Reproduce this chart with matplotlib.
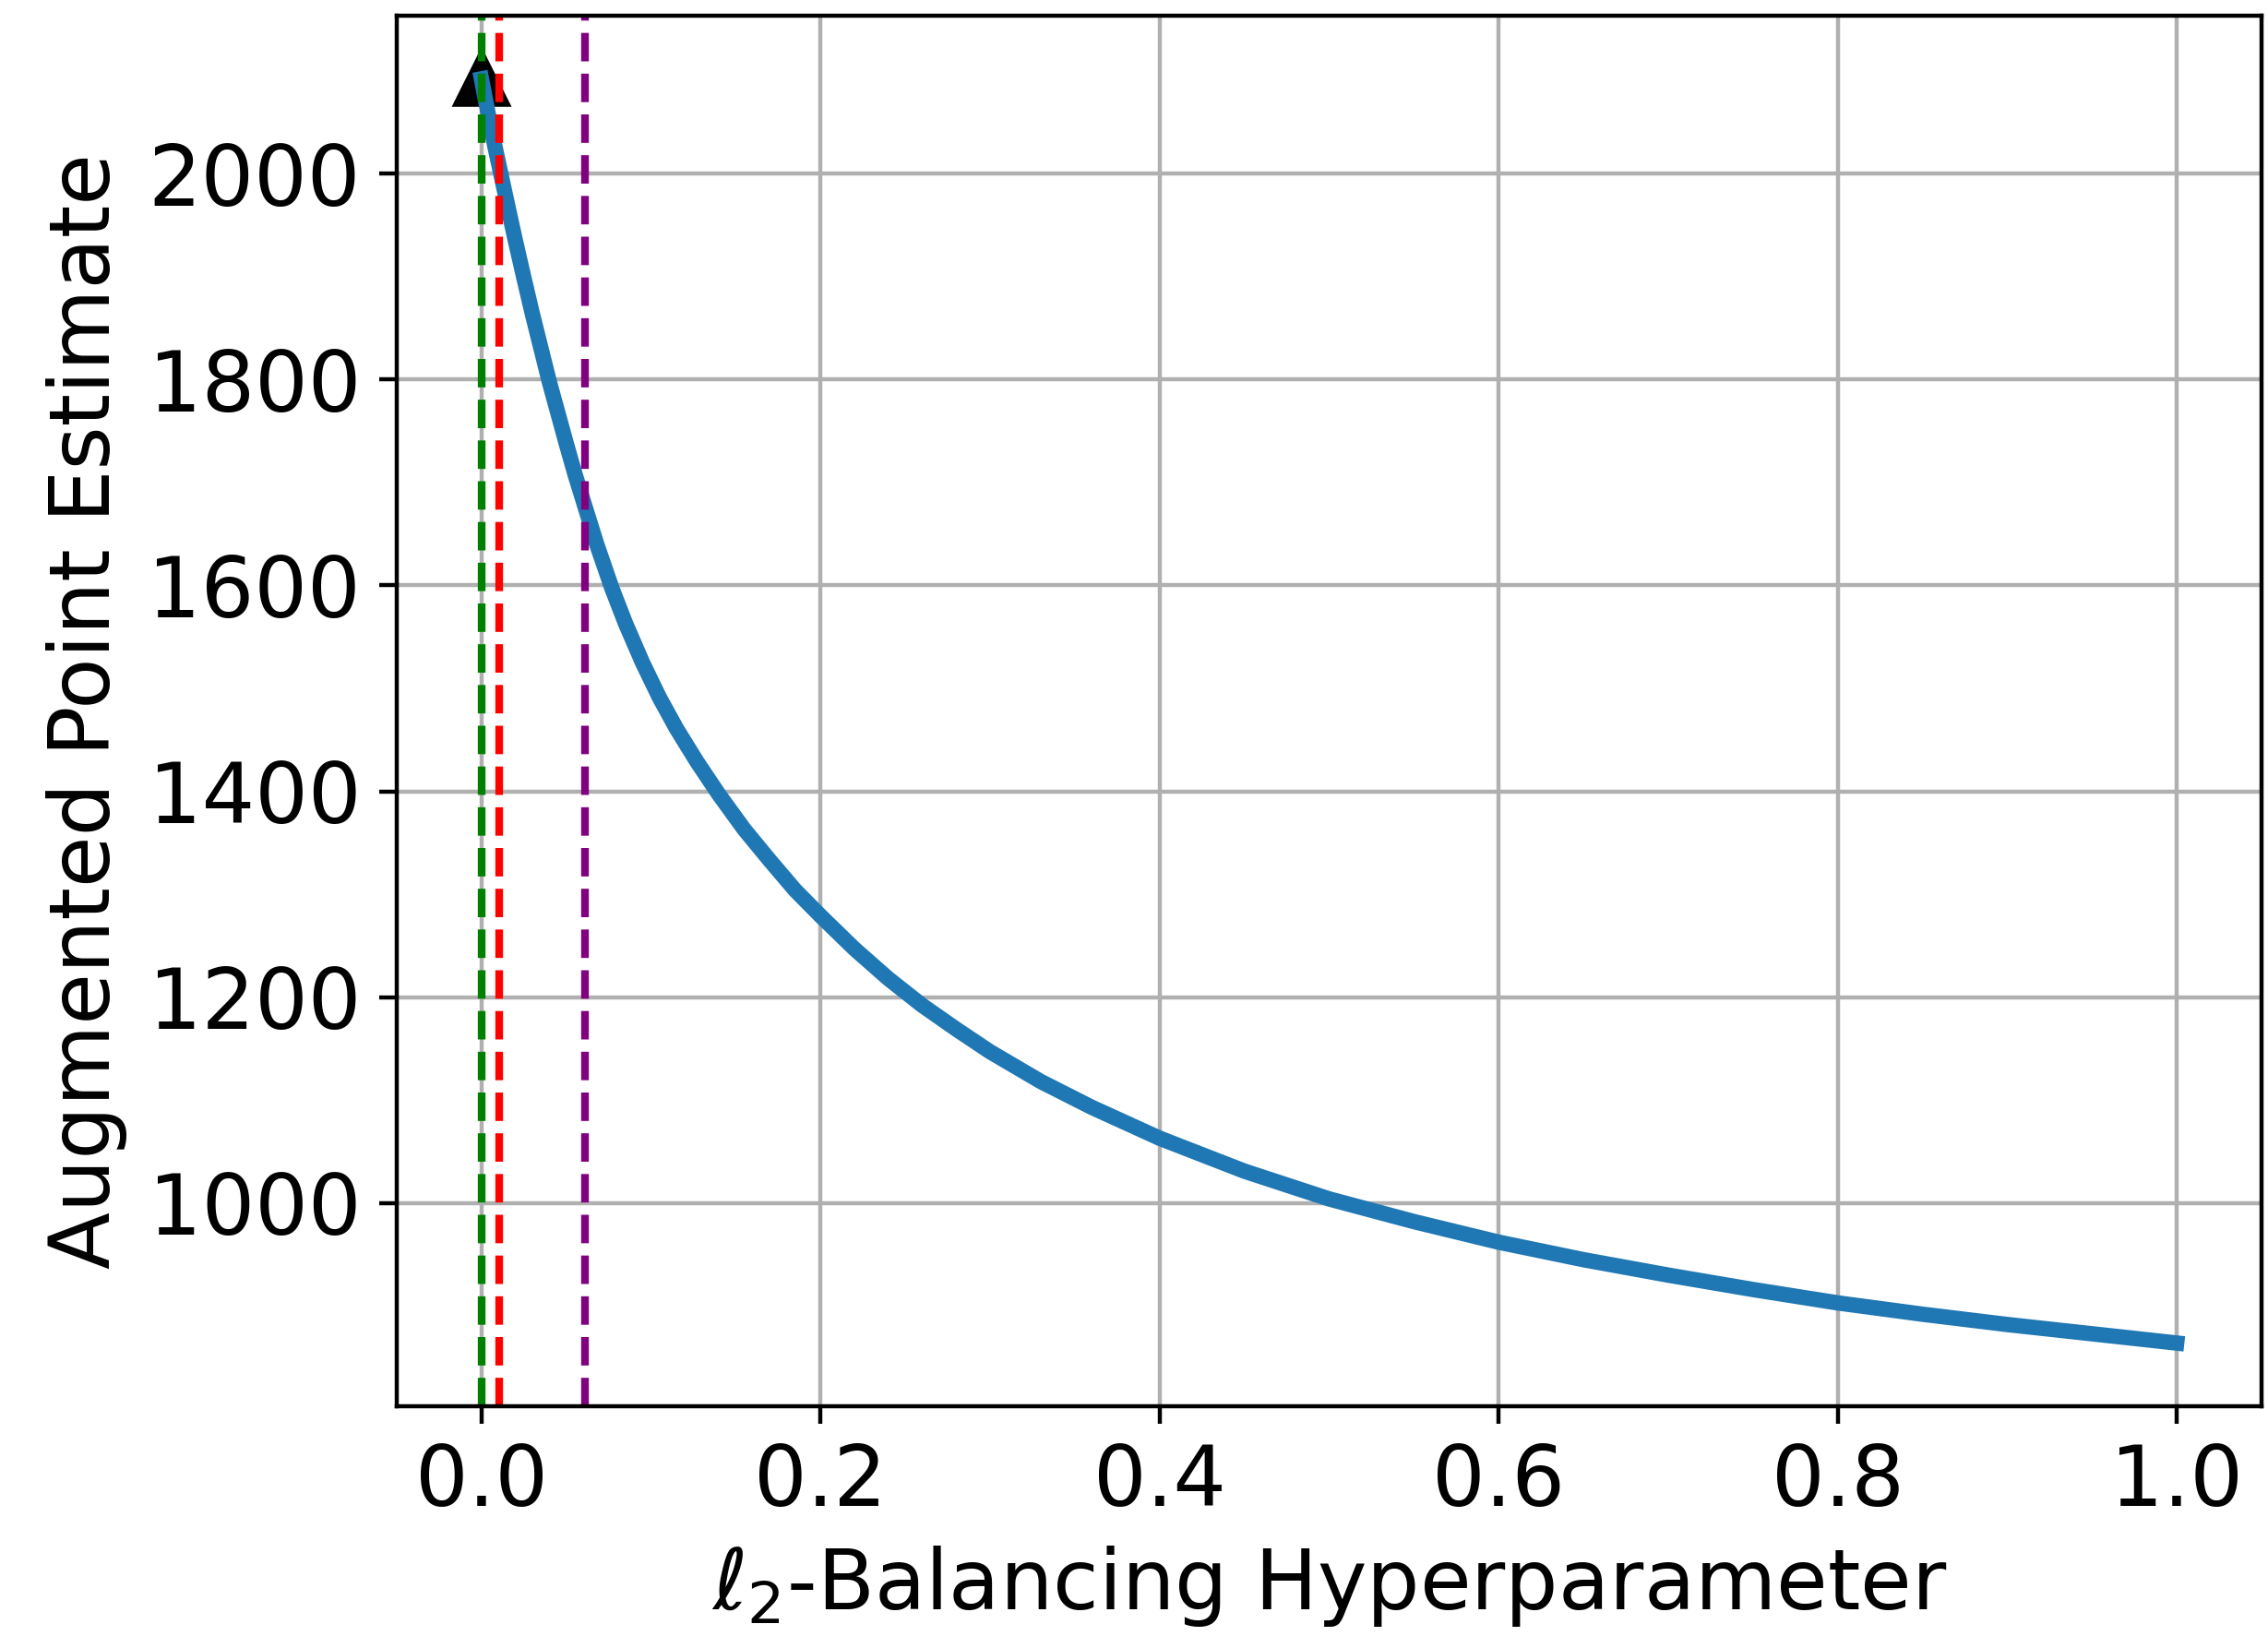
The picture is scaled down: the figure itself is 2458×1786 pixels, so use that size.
import numpy as np
import matplotlib
matplotlib.use('Agg')
import matplotlib.pyplot as plt

#### Inputs
# balancing hyperparameter sweep and the resulting augmented point estimate
lam = [0.0, 0.004, 0.008, 0.0114, 0.016, 0.02, 0.025, 0.03, 0.035, 0.04,
       0.045, 0.05, 0.055, 0.061, 0.068, 0.077, 0.085, 0.095, 0.105, 0.115,
       0.127, 0.14, 0.155, 0.17, 0.185, 0.2, 0.22, 0.24, 0.26, 0.28,
       0.3, 0.33, 0.36, 0.4, 0.45, 0.5, 0.55, 0.6, 0.65, 0.7,
       0.75, 0.8, 0.85, 0.9, 0.95, 1.0]
point_est = [2092, 2058, 2026, 2000, 1965, 1935, 1899, 1864, 1831, 1798,
             1768, 1738, 1709, 1677, 1640, 1597, 1563, 1525, 1491, 1461,
             1429, 1397, 1363, 1333, 1304, 1279, 1247, 1218, 1192, 1169,
             1147, 1118, 1093, 1063, 1031, 1004, 982, 962, 945, 930,
             916, 903, 892, 882, 873, 864]

# selected hyperparameter values
lam_green = 0.0
lam_red = 0.0105
lam_purple = 0.061

fs = 16.3

### Plot
fig = plt.figure(figsize=(2458/400, 1786/400), dpi=400)
ax = fig.add_axes([0.1749, 0.1467, 0.8222, 0.8438])

ax.plot(lam[0], point_est[0], marker='^', color='k', markersize=10)
ax.plot(lam, point_est, color='tab:blue', lw=3)
ax.axvline(lam_green, color='green', ls='--', lw=1.5)
ax.axvline(lam_red, color='red', ls='--', lw=1.5)
ax.axvline(lam_purple, color='purple', ls='--', lw=1.5)

ax.grid(True)
ax.set_xticks([0.0, 0.2, 0.4, 0.6, 0.8, 1.0])
ax.set_yticks([1000, 1200, 1400, 1600, 1800, 2000])
ax.tick_params(labelsize=fs)
ax.set_xlabel(r'$\ell_2$-Balancing Hyperparameter', size=fs)
ax.set_ylabel('Augmented Point Estimate', size=fs)

plt.savefig('out.png', dpi=400)
